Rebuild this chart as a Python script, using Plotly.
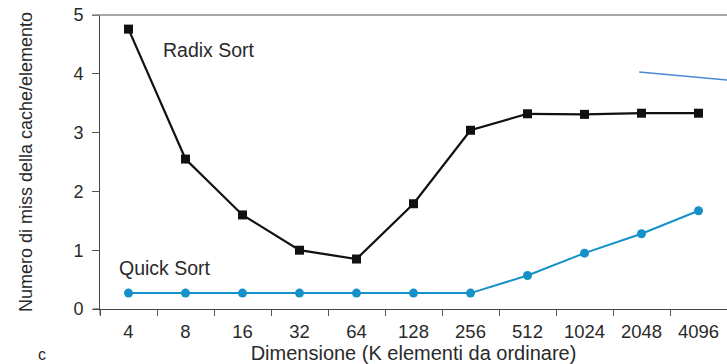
import plotly.graph_objects as go

categories = ["4", "8", "16", "32", "64", "128", "256", "512", "1024", "2048", "4096"]
radix_sort = [4.76, 2.55, 1.60, 1.00, 0.85, 1.79, 3.04, 3.32, 3.31, 3.33, 3.33]
quick_sort = [0.27, 0.27, 0.27, 0.27, 0.27, 0.27, 0.27, 0.57, 0.95, 1.28, 1.67]

FONT = "Liberation Sans, Arial, Helvetica, sans-serif"
TXT = "#2a2a2a"

fig = go.Figure()
fig.add_trace(go.Scatter(
    x=categories, y=radix_sort, mode="lines+markers",
    line=dict(color="#111111", width=2.2),
    marker=dict(symbol="square", size=9, color="#111111"),
    showlegend=False, cliponaxis=False))
fig.add_trace(go.Scatter(
    x=categories, y=quick_sort, mode="lines+markers",
    line=dict(color="#1591c9", width=2),
    marker=dict(symbol="circle", size=9, color="#1591c9"),
    showlegend=False, cliponaxis=False))

fig.update_layout(
    width=727, height=364,
    margin=dict(l=100, r=0, t=15, b=55),
    plot_bgcolor="white", paper_bgcolor="white",
    font=dict(family=FONT, color=TXT, size=19),
    xaxis=dict(
        type="category", range=[-0.5, 10.5],
        tickson="boundaries", ticks="outside", ticklen=6, tickcolor="#555",
        showline=True, linecolor="#444", linewidth=1,
        showgrid=False, zeroline=False,
        tickfont=dict(size=18.5, color=TXT), ticklabelstandoff=6,
        title=dict(text="Dimensione (K elementi da ordinare)",
                   font=dict(size=20, color=TXT), standoff=0),
    ),
    yaxis=dict(
        range=[0, 5], tickvals=[0, 1, 2, 3, 4, 5],
        ticks="outside", ticklen=7, tickcolor="#555",
        showline=True, linecolor="#444", linewidth=1,
        showgrid=False, zeroline=False,
        tickfont=dict(size=18, color=TXT), ticklabelstandoff=5,
        title=dict(text="Numero di miss della cache/elemento",
                   font=dict(size=18, color=TXT), standoff=36),
    ),
)

# decorative lines
fig.add_shape(type="line", xref="paper", yref="paper", x0=-0.012, x1=1, y0=1, y1=1,
              line=dict(color="#8a8a8a", width=1.5))
fig.add_shape(type="line", xref="paper", yref="paper", x0=0.86, x1=1.0, y0=0.806, y1=0.779,
              line=dict(color="#4a8ad0", width=1.5))
fig.add_shape(type="line", xref="paper", yref="paper", x0=-0.011, x1=0, y0=0, y1=0,
              line=dict(color="#444", width=1))
fig.add_shape(type="line", xref="paper", yref="paper", x0=0, x1=0, y0=0, y1=-0.02,
              line=dict(color="#444", width=1))

fig.add_annotation(text="Radix Sort", xref="paper", yref="paper", x=0.097, y=0.881,
                   xanchor="left", yanchor="middle", showarrow=False,
                   font=dict(size=19.5, color=TXT))
fig.add_annotation(text="Quick Sort", xref="paper", yref="paper", x=0.027, y=0.139,
                   xanchor="left", yanchor="middle", showarrow=False,
                   font=dict(size=19.5, color=TXT))
fig.add_annotation(text="c", xref="paper", yref="paper", x=-0.093, y=-0.155,
                   xanchor="center", yanchor="middle", showarrow=False,
                   font=dict(size=16, color=TXT))

fig.write_html("out.html", config={"displayModeBar": False},
               post_script="document.body.style.margin='0';document.body.style.overflow='hidden';")
